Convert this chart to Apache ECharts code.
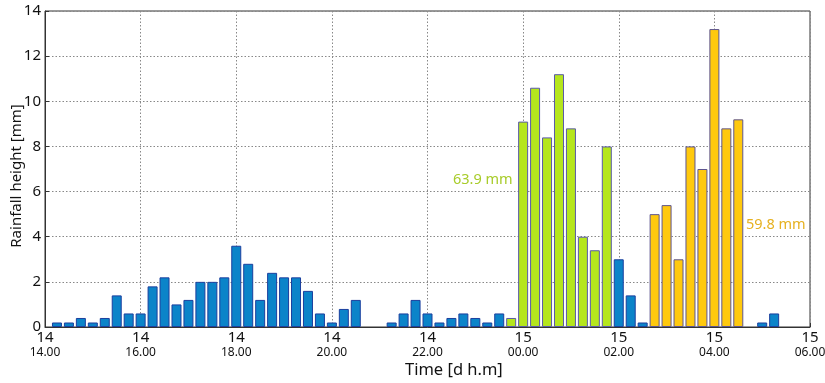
<!DOCTYPE html>
<html>
<head>
<meta charset="utf-8">
<script src="https://cdn.jsdelivr.net/npm/echarts@6/dist/echarts.min.js"></script>
<style>html,body{margin:0;padding:0;background:#fff}#c{width:825px;height:383px}</style>
</head>
<body>
<div id="c"></div>
<script>
// Quarter-hour slots after 14 14.00 (slot n = end of n-th 15-min interval)
const slots = Array.from({length: 64}, (_, i) => i + 1);
// Rainfall per 15 minutes [mm]
const rainfall = [
  0.2, 0.2, 0.4, 0.2, 0.4, 1.4, 0.6, 0.6, 1.8, 2.2, 1.0, 1.2, 2.0, 2.0, 2.2, 3.6,
  2.8, 1.2, 2.4, 2.2, 2.2, 1.6, 0.6, 0.2, 0.8, 1.2, 0, 0, 0.2, 0.6, 1.2, 0.6,
  0.2, 0.4, 0.6, 0.4, 0.2, 0.6, 0.4, 9.1, 10.6, 8.4, 11.2, 8.8, 4.0, 3.4, 8.0, 3.0,
  1.4, 0.2, 5.0, 5.4, 3.0, 8.0, 7.0, 13.2, 8.8, 9.2, 0, 0.2, 0.6, 0, 0, 0
];
// Event classification per slot: 0 = other, 1 = event 1, 2 = event 2
const eventGroup = [
  0,0,0,0,0,0,0,0,0,0,0,0,0,0,0,0,
  0,0,0,0,0,0,0,0,0,0,0,0,0,0,0,0,
  0,0,0,0,0,0,1,1,1,1,1,1,1,1,1,0,
  0,0,2,2,2,2,2,2,2,2,0,0,0,0,0,0
];
const eventLabels = ["63.9 mm", "59.8 mm"];
const yTicks = [0, 2, 4, 6, 8, 10, 12, 14];

const fills = ['#0B84C9', '#B5E61D', '#FFC90E'];
const borders = ['#1B3F9E', '#5A5AA8', '#5E5590'];

const chart = echarts.init(document.getElementById('c'));
const font = '"Noto Sans", "Open Sans", sans-serif';

function fmtX(v) {
  const totalH = 14 + v / 4;
  const day = totalH >= 24 ? 15 : 14;
  const h = totalH % 24;
  return day + '\n{t|' + String(h).padStart(2, '0') + '.00}';
}

chart.setOption({
  animation: false,
  grid: { left: 45, right: 15, top: 11, bottom: 56, show: true, borderColor: '#333', borderWidth: 1,
          containLabel: false, outerBoundsMode: 'none' },
  xAxis: {
    type: 'value', min: 0, max: 64, interval: 8,
    axisLine: { show: true, lineStyle: { color: '#333' } },
    axisTick: { show: true, inside: true, length: 4, lineStyle: { color: '#333' } },
    splitLine: { show: true, lineStyle: { type: [1.5, 2], color: '#888', width: 1 } },
    axisLabel: {
      formatter: fmtX, color: '#111', fontSize: 15, fontFamily: font, margin: 3, lineHeight: 15,
      rich: { t: { fontSize: 12, fontFamily: font, color: '#111', lineHeight: 15 } }
    }
  },
  yAxis: {
    type: 'value', min: 0, max: 14, interval: 2,
    axisLine: { show: true, lineStyle: { color: '#333' } },
    axisTick: { show: true, inside: true, length: 4, lineStyle: { color: '#333' } },
    splitLine: { show: true, lineStyle: { type: [1.5, 2], color: '#888', width: 1 } },
    axisLabel: { color: '#111', fontSize: 15, fontFamily: font, margin: 4,
      formatter: v => yTicks.includes(v) ? String(v) : '' }
  },
  graphic: [
    { type: 'text', x: 17, y: 176, rotation: Math.PI / 2,
      style: { text: 'Rainfall height [mm]', font: '15px ' + font, fill: '#111', align: 'center', verticalAlign: 'middle' } },
    { type: 'text', left: 405, top: 362, style: { text: 'Time [d h.m]', font: '16.5px ' + font, fill: '#111' } },
    { type: 'text', left: 453, top: 172, style: { text: eventLabels[0], font: '14.5px ' + font, fill: '#A8CC2A' } },
    { type: 'text', left: 746, top: 217, style: { text: eventLabels[1], font: '14.5px ' + font, fill: '#E6B120' } }
  ],
  series: [{
    type: 'bar',
    barWidth: 10,
    data: slots.map((s, i) => ({
      value: [s, rainfall[i]],
      itemStyle: { color: fills[eventGroup[i]], borderColor: borders[eventGroup[i]],
                   borderWidth: rainfall[i] > 0 ? 1 : 0, opacity: rainfall[i] > 0 ? 1 : 0 }
    }))
  }]
});
</script>
</body>
</html>
